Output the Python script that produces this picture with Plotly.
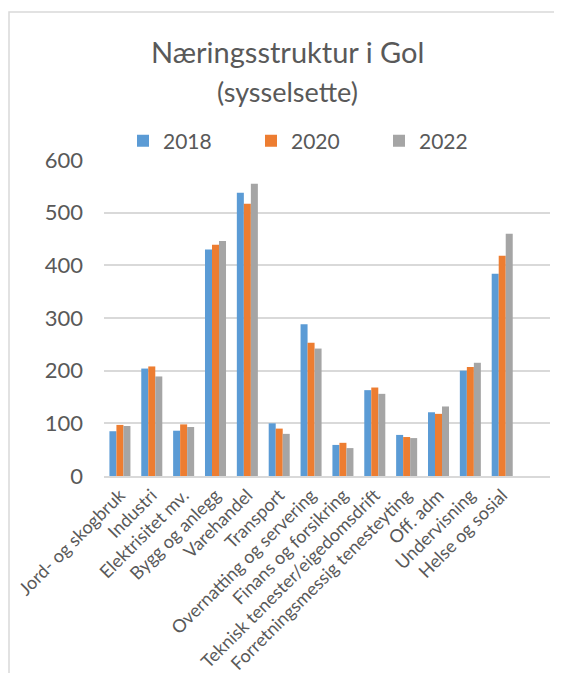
import plotly.graph_objects as go

categories = ["Jord- og skogbruk", "Industri", "Elektrisitet mv.", "Bygg og anlegg",
              "Varehandel", "Transport", "Overnatting og servering", "Finans og forsikring",
              "Teknisk tenester/eigedomsdrift", "Forretningsmessig tenesteyting",
              "Off. adm", "Undervisning", "Helse og sosial"]
v2018 = [85, 204, 86, 430, 538, 100, 288, 59, 163, 78, 121, 200, 384]
v2020 = [97, 208, 98, 439, 517, 90, 253, 63, 168, 74, 118, 207, 418]
v2022 = [95, 189, 93, 446, 555, 80, 242, 53, 156, 72, 132, 215, 460]
years = ["2018", "2020", "2022"]
colors = ["#5b9bd5", "#ed7d31", "#a5a5a5"]

# page body has an 8px margin; work in screenshot coordinates and shift
OFF = 8
SW, SH = 562, 673
W, H = SW - OFF, SH - OFF
PL, PR, PT, PB = 104, 550, 160, 476  # plot area in screenshot coords
L, T = PL - OFF, PT - OFF
R, B = W - (PR - OFF), H - (PB - OFF)
pw, ph = PR - PL, PB - PT

def px(x):
    return (x - PL) / pw

def py(y):
    return (PB - y) / ph

fig = go.Figure()
for name, vals, c in zip(years, [v2018, v2020, v2022], colors):
    fig.add_trace(go.Bar(x=categories, y=vals, name=name, marker_color=c,
                         marker_line_width=0))

txt = "#595959"
fig.update_layout(
    width=W, height=H,
    margin=dict(l=L, r=R, t=T, b=B, autoexpand=False),
    paper_bgcolor="white", plot_bgcolor="white",
    font=dict(family="Lato", color=txt),
    barmode="group", bargap=0.34, bargroupgap=0,
    showlegend=True,
    legend=dict(orientation="h", x=px(123), y=py(141), xanchor="left", yanchor="middle",
                font=dict(size=21, color=txt), entrywidth=83, entrywidthmode="pixels",
                bgcolor="rgba(0,0,0,0)", traceorder="normal"),
    xaxis=dict(type="category", range=[-0.5, 13.5], tickangle=-45,
               tickfont=dict(size=18, color=txt), showgrid=False,
               showline=True, linecolor="#d9d9d9", linewidth=1.5, ticks=""),
    yaxis=dict(range=[0, 600], dtick=100, tick0=0, tickfont=dict(size=22, color=txt),
               showgrid=True, gridcolor="#d9d9d9", gridwidth=1.5, zeroline=False,
               showline=False, ticks="", ticklabelstandoff=20),
    annotations=[
        dict(text="Næringsstruktur i Gol", x=px(287), y=py(52), xref="paper", yref="paper",
             showarrow=False, font=dict(size=29, color=txt), xanchor="center", yanchor="middle"),
        dict(text="(sysselsette)", x=px(287), y=py(92), xref="paper", yref="paper",
             showarrow=False, font=dict(size=27, color=txt), xanchor="center", yanchor="middle"),
    ],
    shapes=[
        dict(type="rect", xref="paper", yref="paper", x0=px(9), y0=py(SH + 50), x1=px(SW + 50),
             y1=py(12), line=dict(color="#d9d9d9", width=1.5), fillcolor="rgba(0,0,0,0)",
             layer="below"),
    ],
)

fig.write_html("out.html")
